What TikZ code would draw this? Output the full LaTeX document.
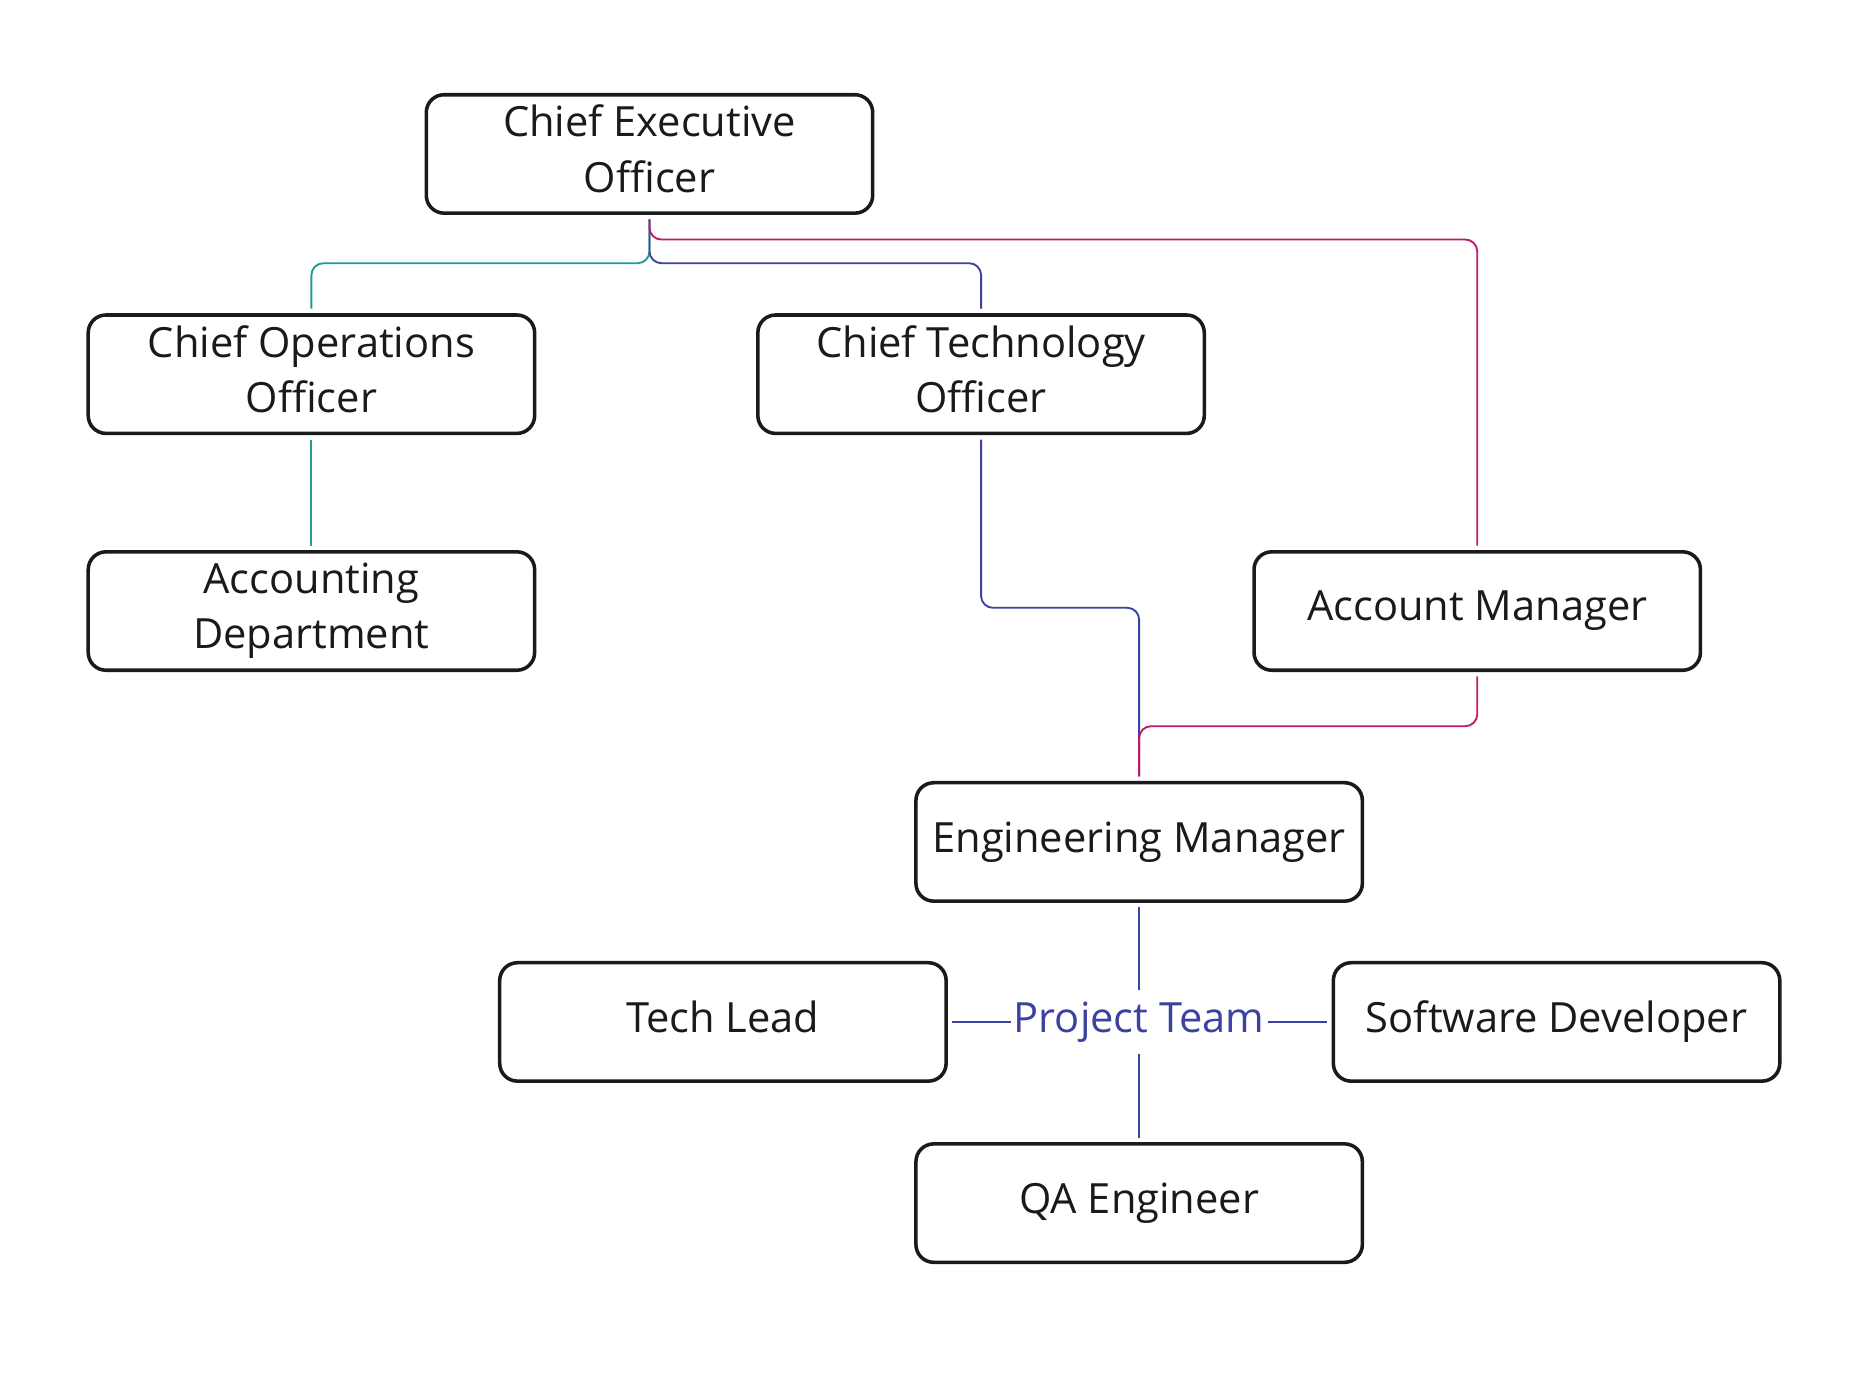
\documentclass[tikz,border=0pt]{standalone}
\usepackage{fontspec}
\setmainfont{Open Sans}
\usepackage{tikz}
\definecolor{linkteal}{HTML}{1F9E8E}
\definecolor{linkblue}{HTML}{3C42A0}
\definecolor{linkpink}{HTML}{C5176E}
\definecolor{boxline}{HTML}{1A1A1A}

\begin{document}
\begin{tikzpicture}[role/.style={draw=boxline,line width=0.85pt,rounded corners=0.15cm,minimum width=3.77cm,minimum height=1cm,align=center,inner ysep=1.5pt,outer sep=1.5pt,text depth=2.5pt,text=boxline,font=\fontsize{10}{13.4}\selectfont},link/.style={line width=0.45pt,rounded corners=0.1cm}]
\useasboundingbox (0,0) rectangle (15.64,-11.60);
\foreach \n/\x/\y/\lbl in %
{ceo/5.485/-1.30/{Chief Executive\\Officer},coo/2.63/-3.16/{Chief Operations\\Officer},cto/8.285/-3.16/{Chief Technology\\Officer},acc/2.63/-5.16/{Accounting\\Department},am/12.475/-5.16/{Account Manager},em/9.62/-7.11/{Engineering Manager},tl/6.105/-8.63/{Tech Lead},sd/13.145/-8.63/{Software Developer},qa/9.62/-10.16/{QA Engineer}} {
   \node[role] (\n) at (\x,\y) {\lbl};
}
\node[text=linkblue,font=\fontsize{10}{12}\selectfont,inner xsep=0.5pt,inner ysep=2.6pt] (team) at (9.62,-8.63) {Project Team};
\draw[link,linkteal] (ceo.south) -- ++(0,-0.37) -| (coo.north);
\draw[link,linkteal] (coo.south) -- (acc.north);
\draw[link,linkblue] (ceo.south) -- ++(0,-0.37) -| (cto.north);
\draw[link,linkpink] (ceo.south) -- ++(0,-0.17) -| (am.north);
\draw[link,linkblue] (cto.south) -- ++(0,-1.42) -| (em.north);
\draw[link,linkpink] (am.south) -- ++(0,-0.42) -| (em.north);
\draw[link,linkblue] (em.south) -- (team);
\draw[link,linkblue] (team) -- (qa.north);
\draw[link,linkblue] (tl.east) -- (team);
\draw[link,linkblue] (team) -- (sd.west);
\end{tikzpicture}
\end{document}
